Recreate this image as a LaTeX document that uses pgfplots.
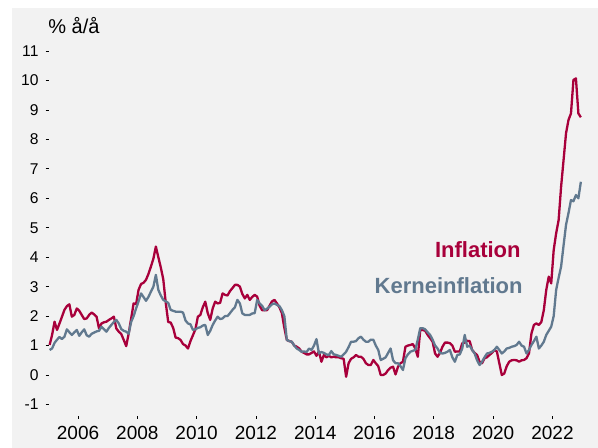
\documentclass[border=0pt]{standalone}
\usepackage{fontspec}
\setmainfont{Liberation Sans}
\usepackage{pgfplots}
\usepackage{pgfplotstable}
\pgfplotsset{compat=1.18}
\definecolor{infred}{HTML}{A8003B}
\definecolor{kerneblue}{HTML}{61798F}
\definecolor{bggray}{HTML}{F2F2F2}

% monthly, Jan 2005 - Dec 2022, % y/y
\pgfplotstableread{
infl kerne
1.02 0.85
1.36 0.90
1.81 1.09
1.53 1.20
1.75 1.29
1.98 1.22
2.21 1.30
2.34 1.55
2.40 1.45
1.98 1.36
2.04 1.45
2.26 1.53
2.18 1.33
2.04 1.45
1.90 1.55
1.92 1.35
2.04 1.30
2.12 1.40
2.06 1.44
1.98 1.48
1.58 1.50
1.75 1.64
1.79 1.55
1.81 1.47
1.87 1.60
1.92 1.70
1.98 1.80
1.58 1.87
1.47 1.75
1.39 1.56
1.19 1.50
0.98 1.47
1.41 1.40
1.92 1.80
2.43 2.00
2.41 2.26
2.89 2.50
3.09 2.77
3.13 2.65
3.23 2.52
3.43 2.65
3.68 2.83
3.95 3.00
4.36 3.40
4.00 2.89
3.65 2.70
3.25 2.55
2.45 2.50
1.80 2.45
1.78 2.21
1.60 2.18
1.27 2.15
1.25 2.15
1.19 2.15
1.05 2.12
1.00 1.85
0.90 1.75
1.15 1.72
1.35 1.53
1.55 1.55
1.98 1.60
2.04 1.62
2.30 1.68
2.49 1.70
2.10 1.36
1.87 1.50
2.26 1.70
2.49 1.85
2.43 1.98
2.45 1.90
2.77 1.92
2.72 2.00
2.70 2.00
2.85 2.10
2.95 2.21
3.06 2.30
3.06 2.55
3.00 2.43
2.75 2.09
2.60 2.04
2.72 2.04
2.55 2.04
2.65 2.09
2.72 2.10
2.66 2.55
2.35 2.43
2.20 2.35
2.20 2.20
2.20 2.25
2.35 2.32
2.50 2.40
2.55 2.43
2.43 2.38
2.30 2.34
2.10 2.20
1.60 2.00
1.19 1.19
1.15 1.15
1.13 1.13
1.00 1.00
0.96 0.90
0.90 0.85
0.79 0.79
0.75 0.80
0.70 0.78
0.70 0.90
0.75 0.85
0.80 1.00
0.65 1.22
0.80 0.73
0.45 0.78
0.68 0.75
0.60 0.70
0.65 0.68
0.60 0.81
0.62 0.70
0.60 0.68
0.60 0.65
0.57 0.62
0.55 0.70
-0.06 0.79
0.40 0.95
0.55 1.13
0.60 1.13
0.68 1.15
0.62 1.25
0.62 1.30
0.55 1.20
0.40 1.13
0.34 1.13
0.34 1.20
0.51 1.20
0.40 1.00
0.30 0.85
0.00 0.51
0.00 0.55
0.05 0.60
0.17 0.75
0.25 0.90
0.28 0.50
0.02 0.40
0.28 0.40
0.40 0.30
0.45 0.17
0.96 0.57
1.00 0.70
1.02 0.79
1.05 0.82
0.90 0.85
0.62 1.20
1.53 1.59
1.53 1.59
1.50 1.55
1.36 1.45
1.25 1.36
1.13 1.20
0.73 1.00
0.62 0.90
0.75 0.75
0.96 0.73
1.10 0.75
1.10 0.79
1.08 0.85
1.00 0.60
0.79 0.45
0.80 0.68
0.80 0.70
1.08 0.90
1.10 1.36
1.16 0.96
1.15 1.00
0.85 0.85
0.75 0.73
0.68 0.50
0.45 0.34
0.40 0.45
0.57 0.60
0.60 0.73
0.68 0.75
0.75 0.79
0.85 0.85
0.80 0.96
0.40 0.85
0.00 0.73
0.05 0.80
0.30 0.90
0.45 0.92
0.50 0.96
0.51 0.98
0.50 1.02
0.45 1.13
0.50 1.00
0.51 0.96
0.57 0.73
0.73 0.85
1.41 1.02
1.70 1.15
1.75 1.30
1.70 0.90
1.80 1.00
2.20 1.13
2.89 1.36
3.34 1.50
3.11 1.64
4.24 2.00
4.81 2.89
5.26 3.30
6.39 3.68
7.30 4.40
8.21 5.10
8.66 5.50
8.88 5.94
10.02 5.90
10.07 6.11
8.88 6.00
8.75 6.56
}\infdata

\begin{document}
\begin{tikzpicture}
\path (0pt,0pt) rectangle (299pt,224pt);
\fill[bggray] (6pt,0pt) rectangle (299pt,220pt);
\begin{axis}[
  at={(24.25pt,16pt)}, anchor=south west, scale only axis,
  width=270.75pt, height=190pt,
  xmin=-0.45, xmax=218.7, ymin=-1.392, ymax=11.51,
  axis x line*=bottom, axis y line*=left,
  axis line style={draw=none},
  tick align=outside, major tick length=1.5pt,
  tick style={black, line width=0.4pt},
  xtick={11.5,35.5,59.5,83.5,107.5,131.5,155.5,179.5,203.5},
  xticklabels={2006,2008,2010,2012,2014,2016,2018,2020,2022},
  ytick={-1,0,1,2,3,4,5,6,7,8,9,10,11},
  yticklabels={-1,0,1,2,3,4,5,6,7,8,9,10,11},
  x tick label style={font=\fontsize{9.5}{11}\selectfont},
  y tick label style={font=\fontsize{7.8}{9}\selectfont},
  clip=false,
]
\addplot[infred, line width=1.15pt, line join=round] table[x expr=\coordindex, y=infl]{\infdata};
\addplot[kerneblue, line width=1.15pt, line join=round] table[x expr=\coordindex, y=kerne]{\infdata};
\end{axis}
\node[anchor=west, inner sep=0, font=\fontsize{10}{12}\selectfont] at (24pt,211pt) {\% å/å};
\node[anchor=east, inner sep=0, text=infred, font=\bfseries\fontsize{11}{13}\selectfont] at (260.5pt,99pt) {Inflation};
\node[anchor=east, inner sep=0, text=kerneblue, font=\bfseries\fontsize{11}{13}\selectfont] at (261.5pt,81pt) {Kerneinflation};
\end{tikzpicture}
\end{document}
